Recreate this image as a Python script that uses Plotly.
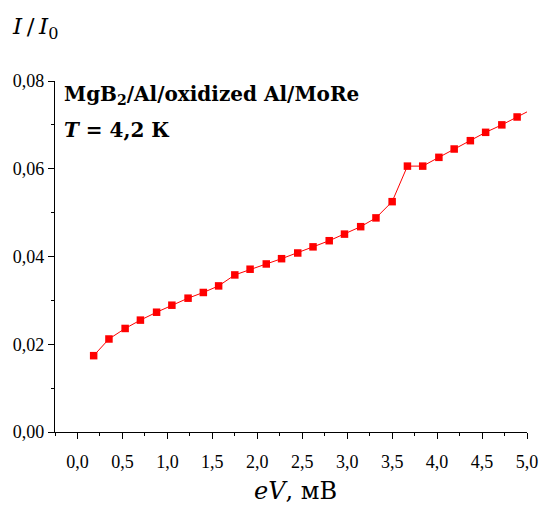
import plotly.graph_objects as go

eV = [0.18, 0.35, 0.53, 0.70, 0.88, 1.05, 1.23, 1.40, 1.57, 1.75,
      1.92, 2.10, 2.27, 2.45, 2.62, 2.80, 2.97, 3.15, 3.32, 3.50,
      3.67, 3.84, 4.02, 4.19, 4.37, 4.54, 4.72, 4.89, 5.07]
I_ratio = [0.0174, 0.0212, 0.0236, 0.0255, 0.0273, 0.0289, 0.0305, 0.0318, 0.0333, 0.0358,
           0.0371, 0.0383, 0.0395, 0.0408, 0.0422, 0.0436, 0.0451, 0.0468, 0.0488, 0.0525,
           0.0606, 0.0606, 0.0626, 0.0645, 0.0664, 0.0683, 0.0700, 0.0718, 0.0737]

x_range = [-0.25, 5.0]
y_range = [0.0, 0.08]

fig = go.Figure()
fig.add_trace(go.Scatter(
    x=eV, y=I_ratio, mode="lines+markers",
    line=dict(color="#ff0000", width=1),
    marker=dict(symbol="square", size=7.5, color="#ff0000", line=dict(width=0)),
    showlegend=False,
))

tick_font = dict(family="Liberation Serif", size=18, color="black")

fig.update_layout(
    width=539, height=506,
    margin=dict(l=55, r=12, t=81, b=74),
    paper_bgcolor="white", plot_bgcolor="white",
    separators=", ",
    xaxis=dict(
        range=x_range, showgrid=False, zeroline=False, automargin=False,
        showline=True, linecolor="black", linewidth=1.2,
        ticks="outside", ticklen=6, tickcolor="black", tickwidth=1.2,
        tick0=0, dtick=0.5, tickformat=".1f", tickfont=tick_font,
        ticklabelstandoff=7,
        minor=dict(ticks="outside", ticklen=3, dtick=0.25, tick0=0, tickcolor="black", showgrid=False),
    ),
    yaxis=dict(
        range=y_range, showgrid=False, zeroline=False, automargin=False,
        showline=True, linecolor="black", linewidth=1.2,
        ticks="outside", ticklen=6, tickcolor="black", tickwidth=1.2,
        tick0=0, dtick=0.02, tickformat=".2f", tickfont=tick_font,
        minor=dict(ticks="outside", ticklen=3, dtick=0.01, tick0=0, tickcolor="black", showgrid=False),
    ),
    annotations=[
        dict(text="<b>MgB<sub>2</sub>/Al/oxidized Al/MoRe</b>", xref="paper", yref="paper",
             x=0.015, y=0.96, xanchor="left", yanchor="middle", showarrow=False,
             font=dict(family="DejaVu Serif", size=20, color="black")),
        dict(text="<b><i>T</i> = 4,2 К</b>", xref="paper", yref="paper",
             x=0.015, y=0.86, xanchor="left", yanchor="middle", showarrow=False,
             font=dict(family="DejaVu Serif", size=20, color="black")),
        dict(text="<i>I</i>\u2009/\u2009<i>I</i><sub>0</sub>", xref="paper", yref="paper",
             x=-0.095, y=1.15, xanchor="left", yanchor="middle", showarrow=False,
             font=dict(family="DejaVu Serif", size=23, color="black")),
        dict(text="<i>eV</i>, мВ", xref="paper", yref="paper",
             x=0.51, y=-0.168, xanchor="center", yanchor="middle", showarrow=False,
             font=dict(family="DejaVu Serif", size=24, color="black")),
    ],
)

fig.write_html("out.html")
